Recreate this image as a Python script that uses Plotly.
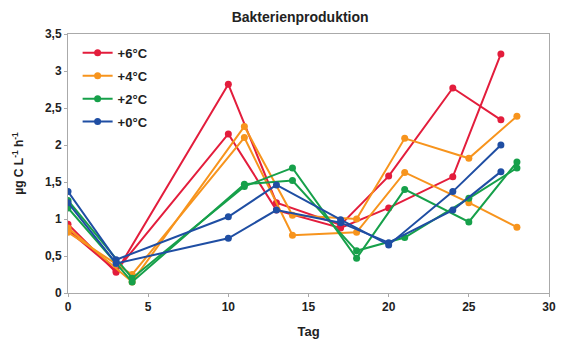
import plotly.graph_objects as go

# Sampling days
days_red_blue = [0, 3, 10, 13, 17, 20, 24, 27]
days_orange_green = [0, 4, 11, 14, 18, 21, 25, 28]

# Replicate series (µg C L-1 h-1)
red_a = [0.93, 0.28, 2.82, 1.22, 0.92, 1.58, 2.77, 2.34]
red_b = [0.85, 0.30, 2.15, 1.12, 0.88, 1.15, 1.57, 3.23]
orange_a = [0.88, 0.15, 2.25, 1.05, 1.00, 2.09, 1.82, 2.39]
orange_b = [0.82, 0.25, 2.10, 0.78, 0.82, 1.63, 1.22, 0.89]
green_a = [1.25, 0.20, 1.44, 1.69, 0.47, 1.40, 0.96, 1.77]
green_b = [1.15, 0.15, 1.47, 1.52, 0.57, 0.75, 1.28, 1.69]
blue_a = [1.37, 0.45, 1.03, 1.46, 0.99, 0.65, 1.37, 2.00]
blue_b = [1.22, 0.40, 0.74, 1.12, 0.95, 0.68, 1.12, 1.64]

y_ticks = [0, 0.5, 1, 1.5, 2, 2.5, 3, 3.5]
y_tick_labels = ["0", "0,5", "1", "1,5", "2", "2,5", "3", "3,5"]
x_ticks = [0, 5, 10, 15, 20, 25, 30]

series = [
    ("+6°C", "#e31d3c", days_red_blue, red_a, red_b),
    ("+4°C", "#f7941d", days_orange_green, orange_a, orange_b),
    ("+2°C", "#16a04a", days_orange_green, green_a, green_b),
    ("+0°C", "#1f4ea3", days_red_blue, blue_a, blue_b),
]

fig = go.Figure()
for name, color, days, ya, yb in series:
    for i, yv in enumerate((ya, yb)):
        fig.add_trace(go.Scatter(
            x=days, y=yv, mode="lines+markers", name=name,
            legendgroup=name, showlegend=(i == 0),
            line=dict(color=color, width=2),
            marker=dict(color=color, size=7),
        ))

fig.update_layout(
    width=561, height=344,
    margin=dict(l=68, r=12, t=34, b=51),
    paper_bgcolor="white", plot_bgcolor="white",
    title=dict(text="Bakterienproduktion", x=0.535, xanchor="center", y=0.95, yanchor="middle",
               font=dict(family="Liberation Sans, Arial", size=14, color="#222", weight="bold")),
    font=dict(family="Liberation Sans, Arial", color="#222"),
    legend=dict(x=0.02, y=0.985, xanchor="left", yanchor="top", bgcolor="rgba(0,0,0,0)",
                font=dict(size=13, color="#222", weight="bold"),
                traceorder="grouped", tracegroupgap=3, itemwidth=30),
    showlegend=True,
)
fig.update_xaxes(range=[0, 30], tickvals=x_ticks, showgrid=False, zeroline=False,
                 showline=True, linecolor="#aaaaaa", linewidth=1, mirror=True,
                 ticks="outside", ticklen=3, tickcolor="#aaaaaa", automargin=False,
                 tickfont=dict(size=12, weight="bold", color="#222"),
                 title=dict(text="Tag", standoff=13, font=dict(size=13, weight="bold", color="#222")))
fig.update_yaxes(range=[0, 3.5], tickvals=y_ticks, ticktext=y_tick_labels, showgrid=False, zeroline=False,
                 showline=True, linecolor="#aaaaaa", linewidth=1, mirror=True,
                 ticks="outside", ticklen=3, tickcolor="#aaaaaa", automargin=False,
                 tickfont=dict(size=12, weight="bold", color="#222"),
                 title=dict(text="µg C L<sup>-1</sup> h<sup>-1</sup>", standoff=18,
                            font=dict(size=12, weight="bold", color="#222")))

fig.write_html("out.html", config={"displayModeBar": False})

# remove default page margin so the figure sits at the window origin
with open("out.html", encoding="utf-8") as f:
    html = f.read()
html = html.replace("<head>", "<head><style>html,body{margin:0;padding:0;overflow:hidden}</style>", 1)
with open("out.html", "w", encoding="utf-8") as f:
    f.write(html)
